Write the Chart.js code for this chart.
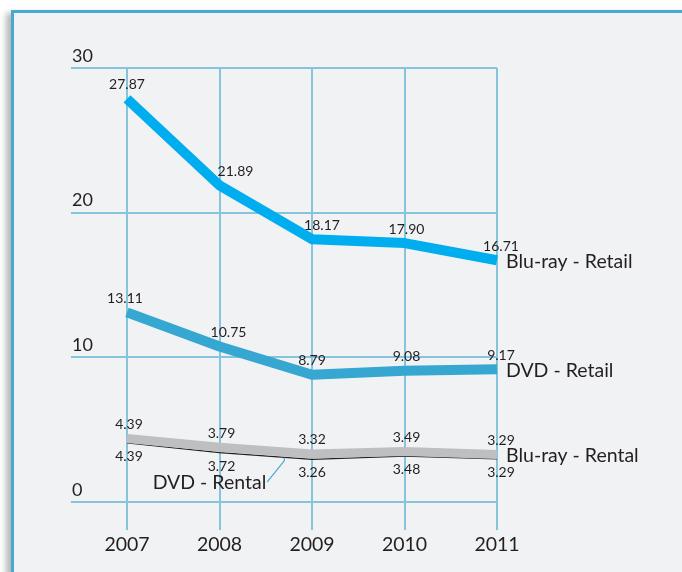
<!DOCTYPE html>
<html><head><meta charset="utf-8">
<script src="https://cdn.jsdelivr.net/npm/chart.js@4.4.0/dist/chart.umd.min.js"></script>
<style>
html,body{margin:0;padding:0;background:#fff;width:682px;height:572px;overflow:hidden;}
#panel{position:absolute;left:11px;top:10px;width:720px;height:620px;border:3px solid #46a9d1;background:#f1f2f4;box-shadow:-5px 3px 6px rgba(0,0,0,0.28);}
#c{position:absolute;left:0;top:0;}
</style></head><body>
<div id="panel"></div>
<canvas id="c" width="682" height="572"></canvas>
<script>
// ---- data ----
const years = ['2007', '2008', '2009', '2010', '2011'];
const yTicks = [0, 10, 20, 30];
const bluRayRental = [4.39, 3.79, 3.32, 3.49, 3.29];
const dvdRental = [4.39, 3.72, 3.26, 3.48, 3.29];
const bluRayRetail = [27.87, 21.89, 18.17, 17.90, 16.71];
const dvdRetail = [13.11, 10.75, 8.79, 9.08, 9.17];
const seriesNames = ['Blu-ray - Rental', 'DVD - Rental', 'Blu-ray - Retail', 'DVD - Retail'];

// ---- styles ----
const TEXT = '#231f20';
const GRID = '#86c4de';
const FONT = 'Lato, "Open Sans", sans-serif';

const labelStyle = [
  { pos: 'above', dy: -14, dx: [2, 2, 0, 2, 4] },
  { pos: 'below', dy: 18, dx: [2, 2, 0, 2, 4] },
  { pos: 'above', dy: -14, dx: [0, 16, 10, 2, 4] },
  { pos: 'above', dy: -14, dx: [-2, 9, 0, 2, 4] }
];

const shiftPlugin = {
  id: 'shift',
  beforeDatasetDraw(chart, args) {
    if (args.index === 1) { chart.ctx.save(); chart.ctx.translate(0, 4.5); }
  },
  afterDatasetDraw(chart, args) {
    if (args.index === 1) chart.ctx.restore();
  }
};

const labelPlugin = {
  id: 'labels',
  afterDatasetsDraw(chart) {
    const ctx = chart.ctx;
    ctx.save();
    ctx.fillStyle = TEXT;
    // value labels
    ctx.font = '14px ' + FONT;
    ctx.textAlign = 'center';
    ctx.textBaseline = 'middle';
    chart.data.datasets.forEach((ds, di) => {
      const meta = chart.getDatasetMeta(di);
      const st = labelStyle[di];
      meta.data.forEach((pt, i) => {
        ctx.fillText(ds.data[i].toFixed(2), pt.x + st.dx[i], pt.y + st.dy);
      });
    });
    // series names at line ends
    ctx.font = '19.5px ' + FONT;
    ctx.textAlign = 'left';
    [0, 2, 3].forEach(di => {
      const meta = chart.getDatasetMeta(di);
      const pt = meta.data[meta.data.length - 1];
      ctx.fillText(seriesNames[di], pt.x + 9, pt.y + 1);
    });
    // DVD - Rental with leader line
    const xs = chart.scales.x, ys = chart.scales.y;
    const f = 0.7;
    const v = dvdRental[1] + (dvdRental[2] - dvdRental[1]) * f;
    const ax = xs.getPixelForValue(1 + f);
    const ay = ys.getPixelForValue(v) + 5;
    ctx.strokeStyle = '#3fa9d6';
    ctx.lineWidth = 1.2;
    ctx.beginPath();
    ctx.moveTo(ax, ay);
    ctx.lineTo(ax, ay + 3);
    ctx.lineTo(ax - 17, ay + 24);
    ctx.stroke();
    ctx.textAlign = 'right';
    ctx.fillText(seriesNames[1], ax - 18, ay + 25);
    ctx.restore();
  }
};

const lineBase = { fill: false, pointRadius: 0, pointHoverRadius: 0, tension: 0, clip: false, borderCapStyle: 'butt', borderJoinStyle: 'round' };

new Chart(document.getElementById('c'), {
  type: 'line',
  data: {
    labels: years,
    datasets: [
      Object.assign({ label: seriesNames[0], data: bluRayRental, borderColor: '#bdbfc1', borderWidth: 9 }, lineBase),
      Object.assign({ label: seriesNames[1], data: dvdRental, borderColor: '#231f20', borderWidth: 1.2 }, lineBase),
      Object.assign({ label: seriesNames[2], data: bluRayRetail, borderColor: '#00aeef', borderWidth: 10 }, lineBase),
      Object.assign({ label: seriesNames[3], data: dvdRetail, borderColor: '#35a7d0', borderWidth: 10 }, lineBase)
    ]
  },
  options: {
    responsive: false,
    animation: false,
    devicePixelRatio: 1,
    layout: { padding: { left: 72, right: 185, top: 68, bottom: 0 } },
    plugins: { legend: { display: false }, tooltip: { enabled: false } },
    scales: {
      x: {
        offset: false,
        border: { display: false },
        grid: { color: GRID, lineWidth: 2, drawTicks: true, tickLength: 28, tickColor: GRID },
        ticks: { color: TEXT, font: { family: FONT, size: 19.5 }, padding: 3, maxRotation: 0 },
        afterFit(s) { s.height = 70; }
      },
      y: {
        min: 0, max: 30,
        border: { display: false },
        afterBuildTicks(s) { s.ticks = yTicks.map(v => ({ value: v })); },
        grid: { color: GRID, lineWidth: 2, drawTicks: true, tickLength: 56, tickColor: GRID },
        ticks: { color: TEXT, font: { family: FONT, size: 18 }, crossAlign: 'far', labelOffset: -12, padding: 0 },
        afterFit(s) { s.width = 55; }
      }
    }
  },
  plugins: [shiftPlugin, labelPlugin]
});
</script>
</body></html>
